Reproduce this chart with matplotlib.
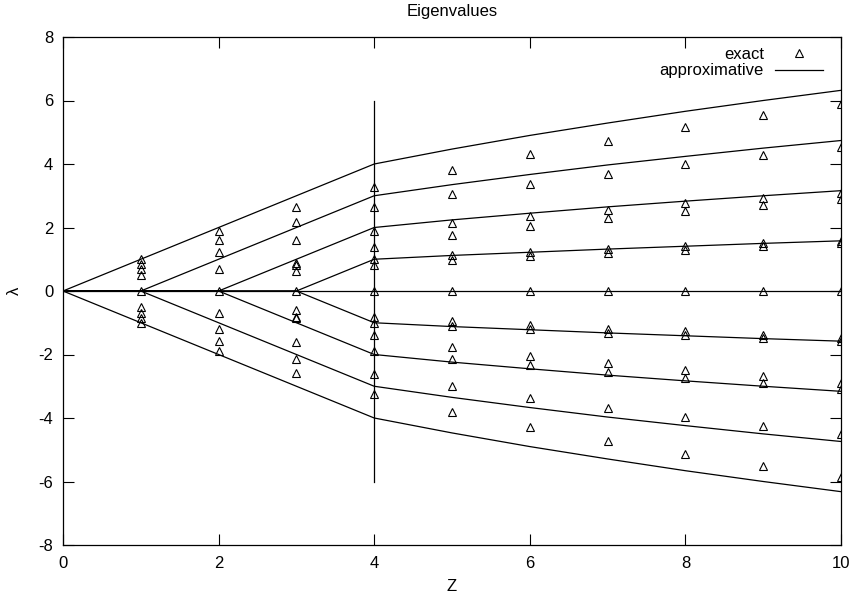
import matplotlib
matplotlib.use("Agg")
import matplotlib.pyplot as plt
import numpy as np

plt.rcParams['font.family'] = ['Liberation Sans', 'DejaVu Sans']
plt.rcParams['axes.unicode_minus'] = False

# approximative curves (positive branches; negative branches mirror them)
z_line = [0, 1, 2, 3, 4, 5, 6, 7, 8, 9, 10]
approx_1 = [0, 0, 0, 0, 1, 1.12, 1.22, 1.32, 1.41, 1.50, 1.58]
approx_2 = [0, 0, 0, 1, 2, 2.24, 2.45, 2.65, 2.83, 3.00, 3.16]
approx_3 = [0, 0, 1, 2, 3, 3.35, 3.67, 3.97, 4.24, 4.50, 4.74]
approx_4 = [0, 1, 2, 3, 4, 4.47, 4.90, 5.29, 5.66, 6.00, 6.32]
approx_0 = [0, 0, 0, 0, 0, 0, 0, 0, 0, 0, 0]
vline_z = [4, 4]
vline_l = [-6, 6]

# exact eigenvalues
z_exact = [1, 2, 3, 4, 5, 6, 7, 8, 9, 10]
exact_pos = [
    [1.00, 0.85, 0.70, 0.50],
    [1.89, 1.60, 1.23, 0.70],
    [2.64, 2.16, 1.60, 0.88, 0.82, 0.62],
    [3.27, 2.63, 1.90, 1.40, 1.02, 0.82],
    [3.82, 3.04, 2.14, 1.77, 1.14, 0.99],
    [4.31, 3.38, 2.36, 2.06, 1.23, 1.09],
    [4.74, 3.70, 2.56, 2.30, 1.33, 1.20],
    [5.15, 3.99, 2.76, 2.52, 1.42, 1.30],
    [5.53, 4.27, 2.93, 2.71, 1.51, 1.41],
    [5.88, 4.52, 3.10, 2.90, 1.56, 1.50],
]
exact_zero = [0, 0, 0, 0, 0, 0, 0, 0, 0, 0]
exact_neg = [
    [-0.50, -0.70, -0.85, -1.00],
    [-0.70, -1.20, -1.58, -1.88],
    [-0.60, -0.81, -0.86, -1.60, -2.14, -2.59],
    [-0.81, -1.00, -1.39, -1.89, -2.61, -3.24],
    [-0.94, -1.10, -1.75, -2.13, -2.99, -3.80],
    [-1.07, -1.21, -2.04, -2.34, -3.36, -4.29],
    [-1.19, -1.31, -2.28, -2.55, -3.68, -4.72],
    [-1.25, -1.39, -2.49, -2.75, -3.96, -5.13],
    [-1.39, -1.49, -2.68, -2.91, -4.25, -5.51],
    [-1.49, -1.57, -2.89, -3.10, -4.50, -5.87],
]

fig = plt.figure(figsize=(8.49, 6.01), dpi=100)
ax = fig.add_axes([63/849, 1-545/601, (841-63)/849, (545-37)/601])

xs, ys = [], []
for z, pos, zero, neg in zip(z_exact, exact_pos, exact_zero, exact_neg):
    for v in pos + [zero] + neg:
        xs.append(z)
        ys.append(v)
ax.plot(xs, ys, linestyle='none', marker='^', markersize=5.5,
        markerfacecolor='none', markeredgecolor='black', markeredgewidth=0.8,
        label='exact', zorder=3)

lw = 0.9
first = True
for arr in [approx_1, approx_2, approx_3, approx_4]:
    ax.plot(z_line, arr, color='black', lw=lw,
            label='approximative' if first else None)
    first = False
    ax.plot(z_line, [-v for v in arr], color='black', lw=lw)
ax.plot(z_line, approx_0, color='black', lw=lw)
ax.plot(vline_z, vline_l, color='black', lw=lw)

ax.set_xlim(0, 10)
ax.set_ylim(-8, 8)
ax.set_xticks([0, 2, 4, 6, 8, 10])
ax.set_yticks([-8, -6, -4, -2, 0, 2, 4, 6, 8])
ax.tick_params(direction='in', length=8, width=0.8, top=True, right=True,
               labelsize=12)
ax.tick_params(axis='x', pad=8)
ax.tick_params(axis='y', pad=7)
for s in ax.spines.values():
    s.set_linewidth(0.9)

ax.set_title('Eigenvalues', fontsize=12, pad=15)
ax.set_xlabel('Z', fontsize=12, labelpad=6)
ax.set_ylabel('λ', fontsize=12, labelpad=12, rotation=90)

leg = ax.legend(loc='upper right', bbox_to_anchor=(0.9855, 0.994),
                frameon=False, markerfirst=False,
                fontsize=12, handlelength=2.9, borderaxespad=0.0,
                borderpad=0.4, labelspacing=0.1, handletextpad=0.65)
for t in leg.get_texts():
    t.set_ha('right')

fig.savefig('out.png', dpi=100)
